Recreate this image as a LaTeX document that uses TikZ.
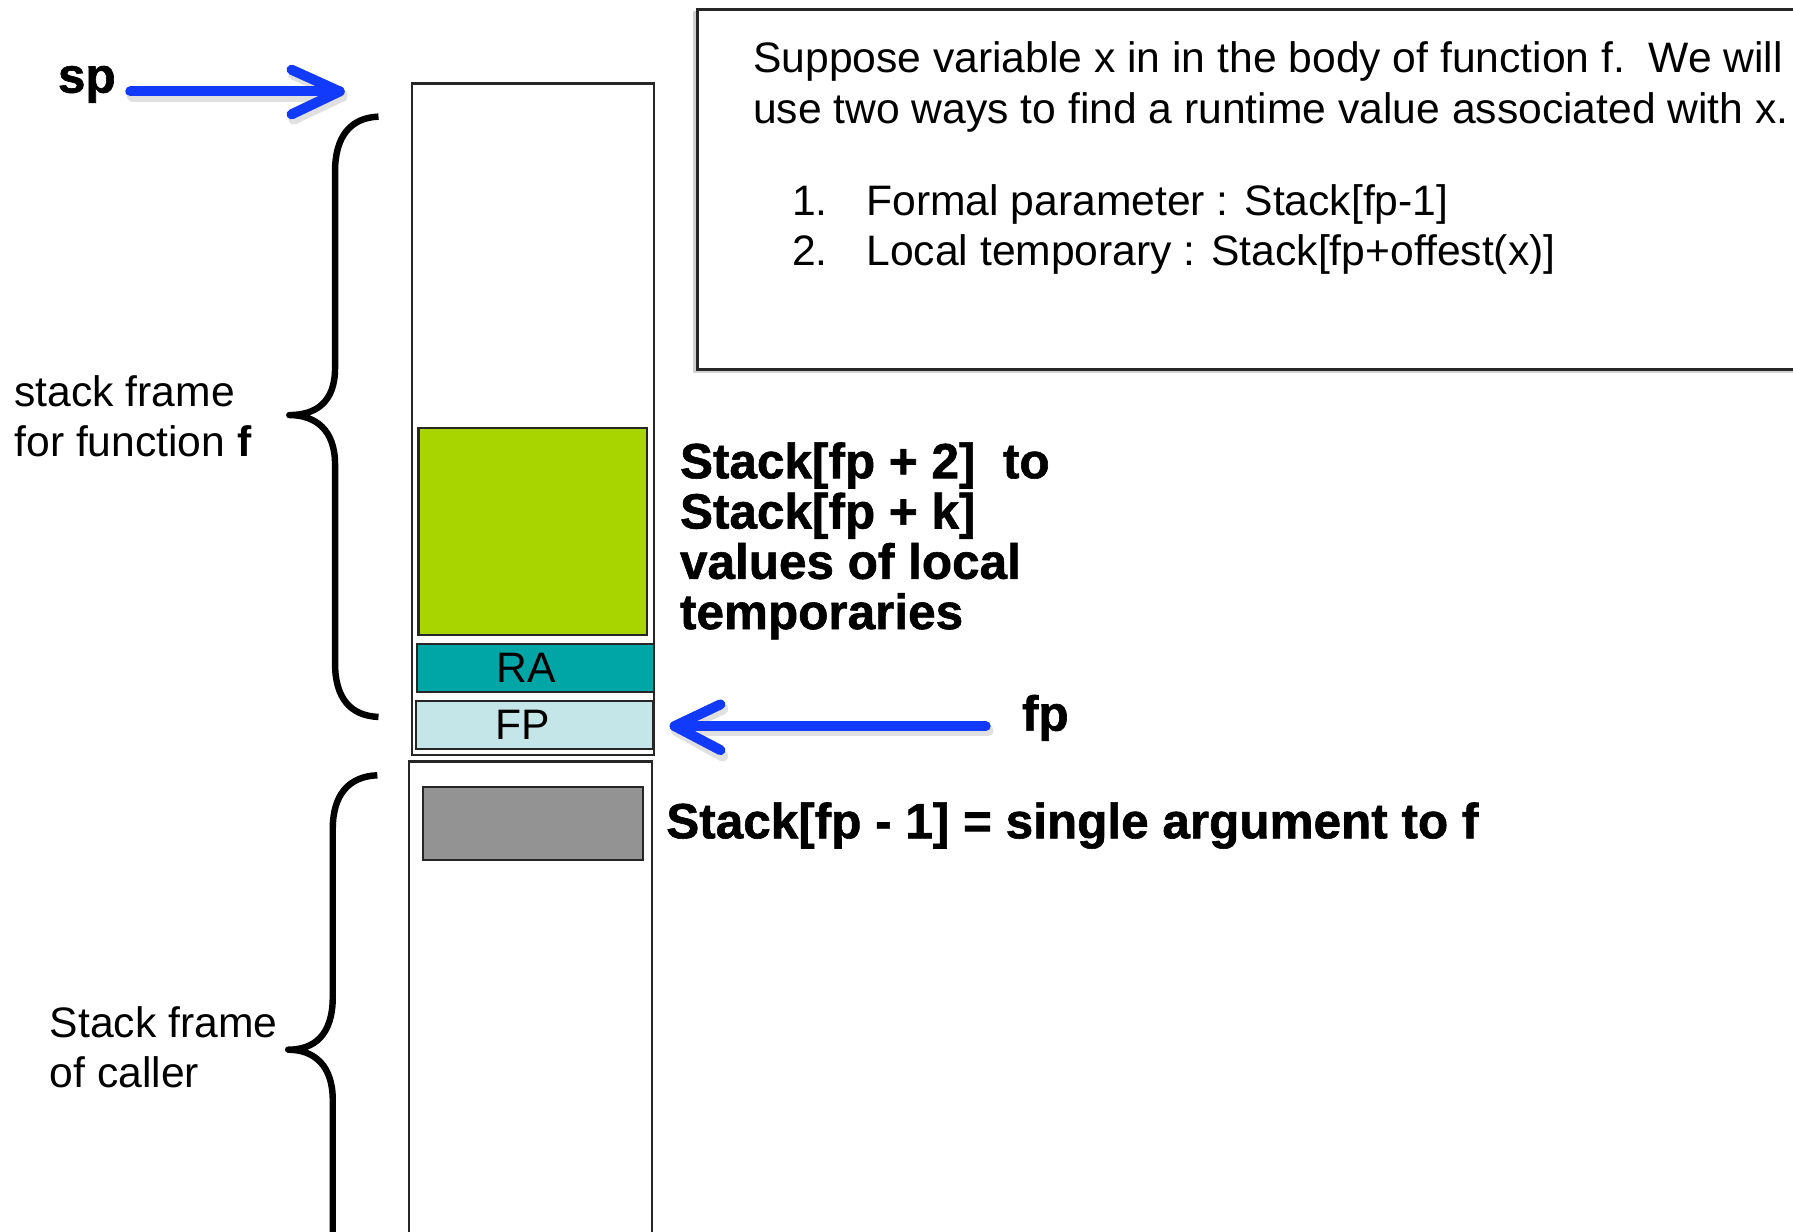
\documentclass[tikz,border=0pt]{standalone}
\usepackage{fontspec}
\setmainfont{Liberation Sans}
\newfontfamily\heavyfont{Liberation Sans Bold}[FakeBold=1.2]
\usetikzlibrary{calc}
\definecolor{arrowblue}{RGB}{18,58,250}
\definecolor{localgreen}{RGB}{168,212,0}
\definecolor{rateal}{RGB}{0,166,166}
\definecolor{fplight}{RGB}{197,230,232}
\definecolor{arggray}{RGB}{147,147,147}
\begin{document}
\begin{tikzpicture}[x=0.01cm,y=-0.01cm,
  reg/.style={font=\fontsize{10.6}{12.5}\selectfont, inner sep=0pt, align=left},
  bld/.style={font=\fontsize{12.3}{12.5}\selectfont\heavyfont, inner sep=0pt, align=left},
  cellbox/.style={draw=black!85, line width=0.55pt, inner sep=0pt, anchor=north west,
     font=\fontsize{10.6}{12.5}\selectfont},
  bluearrow/.style={draw=arrowblue, line width=2.5pt, line cap=round, line join=round},
  arrowshadow/.style={draw=black!12, line width=2.8pt, line cap=round, line join=round},
  bracestyle/.style={line width=1.6pt, line join=round}
]
\clip (0,0) rectangle (1568,1077);
\fill[white] (0,0) rectangle (1568,1077);

% ---- text box top right
\fill[black!18] (606,10) rectangle (1600,326);
\node[draw=black!85, line width=0.7pt, fill=white, inner sep=0pt, anchor=north west,
      minimum width=10cm, minimum height=3.15cm] (box) at (609,7) {};
\node[reg, anchor=west] (intro) at (658,76)
  {Suppose variable x in in the body of function f.\ \ We will\\
   use two ways to find a runtime value associated with x.};
\node[reg, anchor=west] (items) at (692,201)
  {\makebox[0.65cm][l]{1.}Formal parameter : Stack[fp-1]\\
   \makebox[0.65cm][l]{2.}Local temporary : Stack[fp+offest(x)]};

% ---- stack frame of f
\node[cellbox, minimum width=2.12cm, minimum height=5.87cm] (frameF) at (359,72) {};
\node[cellbox, fill=localgreen, minimum width=2.00cm, minimum height=1.81cm] (locals) at (365,373) {};
\node[cellbox, fill=rateal, minimum width=2.07cm, minimum height=0.42cm] (ra) at (364,562) {RA\kern0.17cm};
\node[cellbox, fill=fplight, minimum width=2.07cm, minimum height=0.42cm] (fpcell) at (363,612) {FP\kern0.2cm};

% ---- caller frame
\node[cellbox, minimum width=2.12cm, minimum height=4.6cm] (frameC) at (357,665) {};
\node[cellbox, fill=arggray, minimum width=1.92cm, minimum height=0.64cm] (arg) at (369,687) {};

% ---- labels
\node[reg, anchor=west] (fLabel) at (12,364) {stack frame\\for function \textbf{f}};
\node[reg, anchor=west] (cLabel) at (43,916) {Stack frame\\of caller};
\node[bld, anchor=west] (localsText) at (594,473)
  {Stack[fp + 2]\ \ to\\Stack[fp + k]\\values of local\\temporaries};
\node[bld, anchor=west] (argText) at (582,722) {Stack[fp - 1] = single argument to f};
\node[bld, anchor=base west] (sp) at (50,81) {sp};
\node[bld, anchor=base west] (fp) at (893,639) {fp};

% ---- braces
\draw[bracestyle] (331,102) .. controls (306,103) and (293,120) .. (293,150)
  -- (293,322) .. controls (293,352) and (276,363) .. (253,363)
  .. controls (276,363) and (293,376) .. (293,406)
  -- (293,580) .. controls (293,610) and (306,626) .. (331,627);
\draw[bracestyle] (330,678) .. controls (305,679) and (291,695) .. (291,725)
  -- (291,872) .. controls (291,905) and (275,918) .. (252,918)
  .. controls (275,918) and (291,932) .. (291,962) -- (291,1100);

% ---- sp arrow
\coordinate (spTail) at (114,80);
\coordinate (spTip) at (297,80);
\draw[arrowshadow] ([shift={(2,4)}]spTail) -- ([shift={(2,4)}]spTip);
\draw[arrowshadow] ($(spTip)+(-40,-15)$) -- ($(spTip)+(2,4)$) -- ($(spTip)+(-40,24)$);
\draw[bluearrow] (spTail) -- (spTip);
\draw[bluearrow] ($(spTip)+(-42,-19)$) -- (spTip) -- ($(spTip)+(-42,20)$);

% ---- fp arrow
\coordinate (fpTail) at (862,635);
\coordinate (fpTip) at (590,635);
\draw[arrowshadow] ([shift={(2,4)}]fpTail) -- ([shift={(2,4)}]fpTip);
\draw[arrowshadow] ($(fpTip)+(42,-15)$) -- ($(fpTip)+(2,4)$) -- ($(fpTip)+(42,26)$);
\draw[bluearrow] (fpTail) -- (fpTip);
\draw[bluearrow] ($(fpTip)+(40,-19)$) -- (fpTip) -- ($(fpTip)+(40,21)$);
\end{tikzpicture}
\end{document}
